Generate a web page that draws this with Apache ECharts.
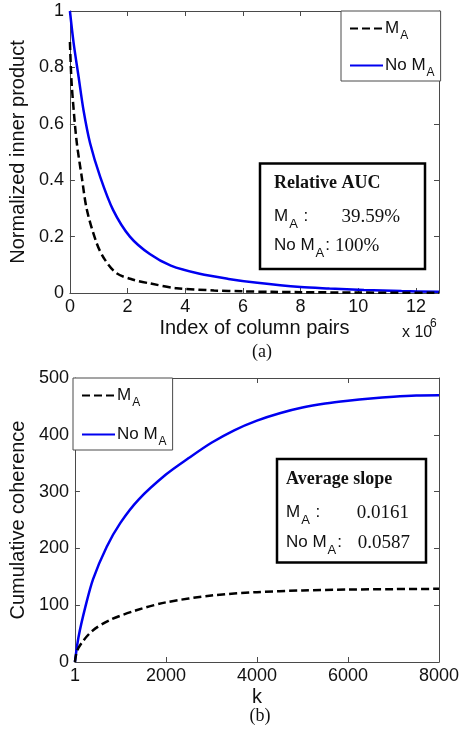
<!DOCTYPE html>
<html>
<head>
<meta charset="utf-8">
<script src="https://cdn.jsdelivr.net/npm/echarts@6/dist/echarts.min.js"></script>
<style>
html,body{margin:0;padding:0;background:#fff;}
#c{width:463px;height:732px;}
</style>
</head>
<body>
<div id="c"></div>
<script>
// ---- Panel (a): normalized inner product vs index of column pairs (x 10^6)
const aNoMA_x = [0, 0.13, 0.3, 0.47, 0.7, 1.05, 1.5, 2.08, 2.77, 3.5, 4.5, 5.5, 6.5, 8, 9, 10.2, 11.5, 12.8];
const aNoMA_y = [1.0, 0.885, 0.767, 0.649, 0.531, 0.412, 0.294, 0.2, 0.138, 0.097, 0.068, 0.05, 0.036, 0.021, 0.016, 0.011, 0.007, 0.004];
const aMA_x = [0, 0.05, 0.13, 0.24, 0.41, 0.59, 0.93, 1.2, 1.62, 2.2, 2.77, 3.7, 5, 6, 7, 8, 10, 12.8];
const aMA_y = [0.89, 0.76, 0.649, 0.531, 0.412, 0.294, 0.176, 0.12, 0.07, 0.047, 0.034, 0.017, 0.009, 0.006, 0.004, 0.003, 0.0015, 0.001];
const aXTicks = [0, 2, 4, 6, 8, 10, 12];
const aYTicks = [0, 0.2, 0.4, 0.6, 0.8, 1];

// ---- Panel (b): cumulative coherence vs k
const bNoMA_k = [1, 80, 230, 400, 700, 1000, 1400, 2000, 2500, 3000, 3500, 4000, 4500, 5000, 5500, 6000, 6500, 7000, 7500, 8000];
const bNoMA_v = [0, 44, 97, 146, 203, 245, 286, 330, 359, 386, 408, 425, 438, 448, 455, 460, 464, 467, 469, 469.5];
const bMA_k = [1, 50, 190, 400, 770, 1350, 2000, 3000, 4000, 5000, 6000, 7000, 8000];
const bMA_v = [0, 20, 38, 56, 74, 91, 105, 117, 123, 126, 127.5, 128.3, 128.8];
const bXTicks = [1, 2000, 4000, 6000, 8000];
const bYTicks = [0, 100, 200, 300, 400, 500];

const seriesNames = ['M_A', 'No M_A'];
const aucTitle = 'Relative AUC';
const aucValues = ['39.59%', '100%'];
const slopeTitle = 'Average slope';
const slopeValues = ['0.0161', '0.0587'];

const zip = (xs, ys) => xs.map((x, i) => [x, ys[i]]);
const SANS = '"Liberation Sans", Arial, sans-serif';
const SERIF = '"Liberation Serif", "Times New Roman", serif';
const FRAME = '#4a4a4a';
const plainFmt = v => String(v);

function axisCommon(extra) {
  return Object.assign({
    type: 'value',
    axisLine: {show: true, onZero: false, lineStyle: {color: FRAME, width: 1}},
    axisTick: {show: true, inside: true, length: 5, lineStyle: {color: FRAME}},
    splitLine: {show: false},
    axisLabel: {show: true, color: '#111', fontFamily: SANS, fontSize: 18, margin: 6, formatter: plainFmt}
  }, extra);
}
function mirror(base) {
  const o = Object.assign({}, base);
  o.axisLabel = {show: false};
  o.name = '';
  return o;
}

const xA = axisCommon({gridIndex: 0, min: 0, max: 12.8, position: 'bottom',
  axisTick: {show: true, inside: true, length: 5, lineStyle: {color: FRAME}, customValues: aXTicks},
  axisLabel: {show: true, color: '#111', fontFamily: SANS, fontSize: 18, margin: 5, customValues: aXTicks, formatter: plainFmt},
  name: 'Index of column pairs', nameLocation: 'middle', nameGap: 25,
  nameTextStyle: {fontFamily: SANS, fontSize: 20, color: '#111', verticalAlign: 'top'}});
const yA = axisCommon({gridIndex: 0, min: 0, max: 1, interval: 0.2, position: 'left',
  name: 'Normalized inner product', nameLocation: 'middle', nameGap: 36,
  nameTextStyle: {fontFamily: SANS, fontSize: 20, color: '#111'}});
const xB = axisCommon({gridIndex: 1, min: 1, max: 8000, position: 'bottom',
  axisTick: {show: true, inside: true, length: 5, lineStyle: {color: FRAME}, customValues: bXTicks},
  axisLabel: {show: true, color: '#111', fontFamily: SANS, fontSize: 18, margin: 5, customValues: bXTicks, formatter: plainFmt},
  name: 'k', nameLocation: 'middle', nameGap: 25,
  nameTextStyle: {fontFamily: SANS, fontSize: 20, color: '#111', verticalAlign: 'top'}});
const yB = axisCommon({gridIndex: 1, min: 0, max: 500, interval: 100, position: 'left',
  name: 'Cumulative coherence', nameLocation: 'middle', nameGap: 43,
  nameTextStyle: {fontFamily: SANS, fontSize: 20, color: '#111'}});

const xAm = mirror(xA); xAm.position = 'top';
const yAm = mirror(yA); yAm.position = 'right';
const xBm = mirror(xB); xBm.position = 'top';
const yBm = mirror(yB); yBm.position = 'right';

const legendRich = {
  m: {fontFamily: SANS, fontSize: 17, color: '#111', lineHeight: 20},
  s: {fontFamily: SANS, fontSize: 12, color: '#111', lineHeight: 12, padding: [15, 0, 0, 1]}
};
const legendFmt = n => n === 'M_A' ? '{m|M}{s|A}' : '{m|No M}{s|A}';
function legend(left, top, gap) {
  return {
    data: seriesNames, orient: 'vertical', left: left, top: top,
    padding: [4, 6, 2, 8], itemGap: gap, itemWidth: 33, itemHeight: 14,
    itemStyle: {opacity: 0, borderWidth: 0},
    borderColor: FRAME, borderWidth: 1, borderRadius: 0, backgroundColor: '#fff',
    selectedMode: false, formatter: legendFmt, textStyle: {rich: legendRich, padding: [0, 0, 0, -3]}
  };
}

const lineBlue = {color: '#0000f0', width: 2.5, type: 'solid'};
const lineBlack = {color: '#000', width: 2.5, type: [8, 4]};

function subText(x, y, prefix) {
  return {
    type: 'text', x: x, y: y, z: 101,
    style: {
      text: '{m|' + prefix + 'M}{s|A}{m|' + (prefix ? ': ' : ' :') + '}',
      verticalAlign: 'middle',
      rich: {
        m: {fontFamily: SANS, fontSize: 17, fill: '#111', lineHeight: 20},
        s: {fontFamily: SANS, fontSize: 13, fill: '#111', lineHeight: 12, padding: [16, 1, 0, 1]}
      }
    }
  };
}
function plain(x, y, txt, font, extra) {
  return {type: 'text', x: x, y: y, z: 101,
    style: Object.assign({text: txt, font: font, fill: '#111', verticalAlign: 'middle'}, extra || {})};
}

const sm = 0.3;
const option = {
  animation: false,
  backgroundColor: '#fff',
  grid: [
    {left: 69, top: 11, width: 370, height: 282},
    {left: 73, top: 378, width: 366, height: 284}
  ],
  xAxis: [xA, xAm, xB, xBm],
  yAxis: [yA, yAm, yB, yBm],
  legend: [legend(341, 11, 10), legend(73, 378, 12)],
  series: [
    {name: 'M_A', type: 'line', xAxisIndex: 0, yAxisIndex: 0, data: zip(aMA_x, aMA_y),
     showSymbol: false, symbol: 'none', smooth: sm, lineStyle: lineBlack, color: '#000', z: 3},
    {name: 'No M_A', type: 'line', xAxisIndex: 0, yAxisIndex: 0, data: zip(aNoMA_x, aNoMA_y),
     showSymbol: false, symbol: 'none', smooth: sm, lineStyle: lineBlue, color: '#0000f0', z: 2},
    {name: 'M_A', type: 'line', xAxisIndex: 2, yAxisIndex: 2, data: zip(bMA_k, bMA_v),
     showSymbol: false, symbol: 'none', smooth: sm, lineStyle: lineBlack, color: '#000', z: 3},
    {name: 'No M_A', type: 'line', xAxisIndex: 2, yAxisIndex: 2, data: zip(bNoMA_k, bNoMA_v),
     showSymbol: false, symbol: 'none', smooth: sm, lineStyle: lineBlue, color: '#0000f0', z: 2}
  ],
  graphic: [
    {type: 'rect', z: 100, shape: {x: 260, y: 163.5, width: 165, height: 105.5},
     style: {fill: '#fff', stroke: '#000', lineWidth: 2.5}},
    plain(274, 183, aucTitle, 'bold 18px ' + SERIF),
    subText(274, 216, ''),
    plain(341.5, 217, aucValues[0], '19px ' + SERIF),
    subText(274, 245, 'No '),
    plain(335, 246, aucValues[1], '19px ' + SERIF),

    {type: 'rect', z: 100, shape: {x: 277, y: 459, width: 149, height: 103.5},
     style: {fill: '#fff', stroke: '#000', lineWidth: 2.5}},
    plain(286, 479, slopeTitle, 'bold 18px ' + SERIF),
    subText(286, 512, ''),
    plain(409, 513, slopeValues[0], '19px ' + SERIF, {align: 'right'}),
    subText(286, 542, 'No '),
    plain(410, 543, slopeValues[1], '19px ' + SERIF, {align: 'right'}),

    plain(402, 333, 'x 10', '16px ' + SANS),
    plain(430, 324, '6', '12px ' + SANS),
    plain(262, 352, '(a)', '18px ' + SERIF, {align: 'center'}),
    plain(260, 716, '(b)', '18px ' + SERIF, {align: 'center'})
  ]
};

const chart = echarts.init(document.getElementById('c'), null, {renderer: 'canvas'});
chart.setOption(option);
</script>
</body>
</html>
